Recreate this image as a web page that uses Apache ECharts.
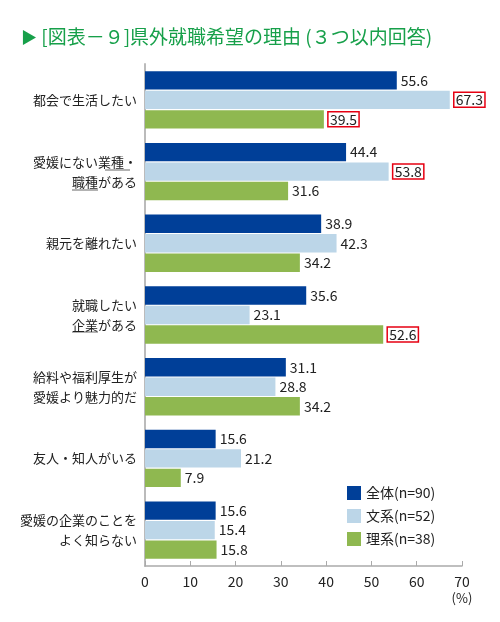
<!DOCTYPE html>
<html>
<head>
<meta charset="utf-8">
<script src="https://cdn.jsdelivr.net/npm/echarts@6/dist/echarts.min.js"></script>
<style>
html, body { margin: 0; padding: 0; background: #fff; }
#chart { width: 500px; height: 622px; }
</style>
</head>
<body>
<div id="chart"></div>
<script>
var categories = ['都会で生活したい', '愛媛にない業種・\n職種がある', '親元を離れたい', '就職したい\n企業がある', '給料や福利厚生が\n愛媛より魅力的だ', '友人・知人がいる', '愛媛の企業のことを\nよく知らない'];
var zentai = [55.6, 44.4, 38.9, 35.6, 31.1, 15.6, 15.6];
var bunkei = [67.3, 53.8, 42.3, 23.1, 28.8, 21.2, 15.4];
var rikei = [39.5, 31.6, 34.2, 52.6, 34.2, 7.9, 15.8];
var seriesNames = ['全体(n=90)', '文系(n=52)', '理系(n=38)'];
var xTicks = [0, 10, 20, 30, 40, 50, 60, 70];
// red boxed values
var boxBunkei = [0, 1];
var boxRikei = [0, 3];

var FONT = '"Noto Sans CJK JP", "Noto Sans", sans-serif';

function markData(values, boxed) {
	return values.map(function (v, i) {
		if (boxed.indexOf(i) < 0) return v;
		return {
			value: v,
			label: {
				borderColor: '#e60012',
				borderWidth: 1.5,
				padding: [1, 2, 0, 2]
			}
		};
	});
}

var dom = document.getElementById('chart');
var myChart = echarts.init(dom);
var option;

var labelStyle = {
	show: true,
	position: 'right',
	distance: 4,
	color: '#222',
	fontSize: 14,
	fontFamily: FONT,
	formatter: function (p) { return p.value.toFixed(1); }
};

option = {
	animation: false,
	textStyle: { fontFamily: FONT },
	title: {
		text: '{t|▶} [図表－９]県外就職希望の理由 (３つ以内回答)',
		left: 16,
		top: 22,
		textStyle: {
			color: '#17a04a', fontSize: 19, fontWeight: 'normal', fontFamily: FONT,
			rich: { t: { color: '#17a04a', fontSize: 16, fontFamily: FONT } }
		}
	},
	legend: {
		orient: 'vertical',
		left: 342,
		top: 481,
		itemWidth: 14,
		itemHeight: 14,
		itemGap: 9,
		icon: 'rect',
		textStyle: { color: '#222', fontSize: 14, fontFamily: FONT },
		data: seriesNames
	},
	grid: {
		left: 145,
		right: 38,
		top: 64,
		bottom: 56
	},
	xAxis: {
		type: 'value',
		min: 0,
		max: 70,
		interval: 10,
		name: '(%)',
		nameLocation: 'end',
		nameGap: 0,
		nameTextStyle: { color: '#222', fontSize: 13, align: 'center', verticalAlign: 'top', padding: [26, 0, 0, 0] },
		axisLine: { show: true, lineStyle: { color: '#aaa', width: 1.5 } },
		axisTick: { show: true, inside: true, length: 5, lineStyle: { color: '#aaa' } },
		axisLabel: {
			color: '#222', fontSize: 14, margin: 9,
			formatter: function (v) { return xTicks.indexOf(v) >= 0 ? String(v) : ''; }
		},
		splitLine: { show: false }
	},
	yAxis: {
		type: 'category',
		inverse: true,
		data: categories,
		axisLine: { show: true, lineStyle: { color: '#bbb', width: 2 } },
		axisTick: { show: false },
		axisLabel: { color: '#222', fontSize: 13, lineHeight: 20, margin: 8, align: 'right' }
	},
	series: [
		{
			name: seriesNames[0],
			type: 'bar',
			data: zentai,
			itemStyle: { color: '#003f98' },
			barGap: '6%',
			barCategoryGap: '20%',
			label: labelStyle
		},
		{
			name: seriesNames[1],
			type: 'bar',
			data: markData(bunkei, boxBunkei),
			itemStyle: { color: '#bcd6e8' },
			barGap: '6%',
			barCategoryGap: '20%',
			label: labelStyle
		},
		{
			name: seriesNames[2],
			type: 'bar',
			data: markData(rikei, boxRikei),
			itemStyle: { color: '#8fb850' },
			barGap: '6%',
			barCategoryGap: '20%',
			label: labelStyle
		}
	],
	// underlines under 業種 / 職種 / 企業 in the category labels
	graphic: [
		{ type: 'line', shape: { x1: 105, y1: 170, x2: 130, y2: 170 }, style: { stroke: '#666', lineWidth: 1 } },
		{ type: 'line', shape: { x1: 72, y1: 190, x2: 98, y2: 190 }, style: { stroke: '#666', lineWidth: 1 } },
		{ type: 'line', shape: { x1: 72, y1: 332, x2: 98, y2: 332 }, style: { stroke: '#666', lineWidth: 1 } }
	]
};

if (option && typeof option === 'object') {
	myChart.setOption(option);
}
</script>
</body>
</html>
